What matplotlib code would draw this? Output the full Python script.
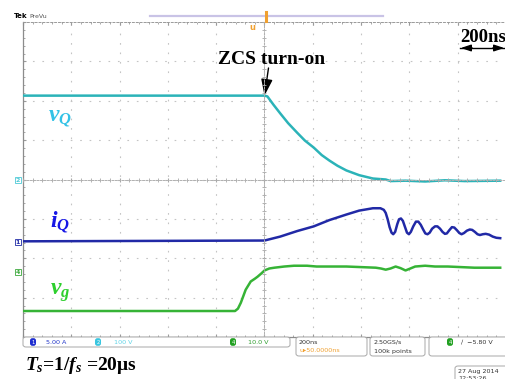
import matplotlib.pyplot as plt
from matplotlib.patches import FancyBboxPatch

plt.rcParams['mathtext.fontset'] = 'custom'
plt.rcParams['mathtext.rm'] = 'Liberation Serif:bold'
plt.rcParams['mathtext.it'] = 'Liberation Serif:italic:bold'
plt.rcParams['mathtext.bf'] = 'Liberation Serif:bold'

W, H = 506, 379

# time in ns, trigger at 0, 200 ns/div
t_vq = [-1000, 0, 12, 37, 65, 98, 135, 167, 204, 237, 269, 302, 339, 392, 449,
        502, 522, 584, 665, 747, 829, 976]
vq = [213, 213, 211, 190, 168, 143, 119, 99, 81, 62, 48, 35, 23, 11, 2.5,
      0, -4, -3, -5, -2, -4, -3]  # V

t_iq = [-1000, 0, 65, 135, 204, 269, 339, 392, 449, 480, 494, 502, 510, 518, 526, 533, 541,
        550, 557, 565, 573, 582, 590, 598, 606, 616, 627, 637, 647, 657, 666, 675, 684,
        694, 706, 716, 727, 737, 747, 755, 765, 776, 786, 797, 807, 816, 826, 838, 850,
        860, 871, 882, 892, 904, 916, 930, 945, 960, 976]
iq = [0, 0.1, 0.6, 1.3, 1.9, 2.7, 3.4, 3.9, 4.2, 4.2, 4.0, 3.6, 2.8, 1.8, 1.1, 0.9, 1.2,
      2.2, 2.8, 2.9, 2.6, 1.8, 1.1, 0.9, 1.2, 1.9, 2.5, 2.5, 2.1, 1.5, 1.0, 0.9, 1.1,
      1.6, 1.9, 1.9, 1.6, 1.2, 0.95, 1.0, 1.4, 1.8, 1.75, 1.4, 1.05, 0.9, 1.05, 1.35, 1.5,
      1.45, 1.2, 0.9, 0.8, 0.9, 0.95, 0.85, 0.6, 0.45, 0.4]  # A

t_vg = [-1000, -122, -110, -98, -78, -57, -40, -29, -12, 0, 20, 41, 82, 122, 176, 216, 339,
        461, 482, 502, 522, 543, 563, 584, 604, 624, 665, 706, 759, 869, 976]
vg = [-10, -10, -9.4, -7.9, -4.6, -2.5, -1.8, -1.3, -0.4, 0.3, 0.8, 1.0, 1.3, 1.5, 1.5, 1.3,
      1.3, 1.0, 0.8, 0.5, 0.8, 1.3, 0.9, 0.3, 0.8, 1.3, 1.5, 1.3, 1.3, 1.0, 1.0]  # V

# channel settings: volts (amps) per div, ground marker position in div
VQ_SCALE, VQ_POS = 100, 0.0
IQ_SCALE, IQ_POS = 5, -1.57
VG_SCALE, VG_POS = 10, -2.34

C_VQ, C_IQ, C_VG = '#2bb3b8', '#2129a6', '#36b336'


def fx(x):
    return x / W


def fy(y):
    return 1 - y / H


fig = plt.figure(figsize=(W / 100, H / 100), dpi=100)
pos = [fx(23), fy(337), (W - 23) / W, 315 / H]
ax = fig.add_axes(pos)
ax.set_xlim(-1000, -1000 + 483 / 49 * 200)
ax.set_ylim(-4, 4)
ax.set_xticks(range(-1000, 1001, 200))
ax.set_yticks(range(-4, 5))
ax.set_xticks(range(-1000, 1001, 40), minor=True)
ax.set_yticks([i / 5 for i in range(-20, 21)], minor=True)
ax.tick_params(which='both', direction='in', length=2.5, color='#9a9a9a',
               labelleft=False, labelbottom=False, top=True, right=False)
ax.tick_params(which='minor', length=1.5)
ax.grid(True, which='major', color='#c4c4c4', linestyle=(0, (1.5, 7)), lw=0.8)
for s in ['left', 'bottom']:
    ax.spines[s].set_color('#8c8c8c')
    ax.spines[s].set_linewidth(0.9)
ax.spines['top'].set_color('#9a9a9a')
ax.spines['top'].set_linestyle((0, (2, 2)))
ax.spines['top'].set_linewidth(0.7)
ax.spines['right'].set_visible(False)

# center crosshair with ticks
ax2 = fig.add_axes(pos, sharex=ax, sharey=ax)
ax2.patch.set_visible(False)
ax2.spines['left'].set_position('zero')
ax2.spines['bottom'].set_position('zero')
ax2.spines['top'].set_visible(False)
ax2.spines['right'].set_visible(False)
for s in ['left', 'bottom']:
    ax2.spines[s].set_color('#b0b0b0')
    ax2.spines[s].set_linestyle((0, (2, 1.5)))
    ax2.spines[s].set_linewidth(0.7)
ax2.tick_params(which='both', direction='inout', length=3.5, color='#a8a8a8',
                labelleft=False, labelbottom=False)
ax2.tick_params(which='minor', length=3)

ax.plot(t_vq, [v / VQ_SCALE + VQ_POS for v in vq], color=C_VQ, lw=1.8, zorder=3)
ax.plot(t_iq, [v / IQ_SCALE + IQ_POS for v in iq], color=C_IQ, lw=1.8, zorder=3)
ax.plot(t_vg, [v / VG_SCALE + VG_POS for v in vg], color=C_VG, lw=1.8, zorder=3)

serif = 'Liberation Serif'
fig.text(fx(272), fy(59), 'ZCS turn-on', ha='center', va='center', fontsize=14,
         fontweight='bold', family=serif)
ax.annotate('', xy=(0, vq[1] / VQ_SCALE + VQ_POS), xycoords='data',
            xytext=(fx(268.5), fy(68)), textcoords='figure fraction',
            arrowprops=dict(arrowstyle='-|>,head_width=0.35,head_length=1.0', color='black',
                            lw=1.0, shrinkA=0, shrinkB=0), zorder=5)

fig.text(fx(60), fy(117), r'$v_Q$', color='#33c2e6', fontsize=17, ha='center', va='center')
fig.text(fx(60), fy(222), r'$i_Q$', color='#1717e6', fontsize=17, ha='center', va='center')
fig.text(fx(60), fy(292), r'$v_g$', color='#2ecf2e', fontsize=17, ha='center', va='center')

# channel ground markers
for y, lab, c in [(180, '2', '#4cc9d6'), (242, '1', '#1f2aa6'), (272, '4', '#3aa83a')]:
    fig.text(fx(18), fy(y), lab, fontsize=4.5, color=c, ha='center', va='center',
             fontweight='bold',
             bbox=dict(boxstyle='square,pad=0.15', fc='white', ec=c, lw=0.6))

# top bar
fig.text(fx(14), fy(16), 'Tek', fontsize=5, fontweight='bold', ha='left', va='center')
fig.text(fx(29), fy(16), 'PreVu', fontsize=4.5, color='#555555', ha='left', va='center')
fig.add_artist(plt.Line2D([fx(150), fx(383)], [fy(16), fy(16)], color='#c9c3e6', lw=1.6))
fig.add_artist(plt.Line2D([fx(266.5), fx(266.5)], [fy(12), fy(21)], color='#f0a030', lw=2.2))
fig.text(fx(252), fy(28), 'u', fontsize=6, color='#f0a030', fontweight='bold',
         ha='center', va='center')

fig.text(fx(483), fy(37), '200ns', fontsize=13.5, fontweight='bold', family=serif,
         ha='center', va='center')
fig.add_artist(plt.Line2D([fx(460), fx(506)], [fy(48), fy(48)], color='black', lw=1.0))
ax.annotate('', xy=(fx(458), fy(48)), xytext=(fx(475), fy(48)),
            xycoords='figure fraction', textcoords='figure fraction',
            arrowprops=dict(arrowstyle='-|>,head_width=0.2,head_length=0.6', color='black', lw=1))
ax.annotate('', xy=(fx(507), fy(48)), xytext=(fx(490), fy(48)),
            xycoords='figure fraction', textcoords='figure fraction',
            arrowprops=dict(arrowstyle='-|>,head_width=0.2,head_length=0.6', color='black', lw=1))

# status bar boxes
for x0, y0, x1, y1 in [(23, 337, 290, 347), (296, 337, 367, 356), (370, 337, 425, 356),
                       (429, 337, 512, 356), (455, 366, 512, 385)]:
    fig.add_artist(FancyBboxPatch((fx(x0), fy(y1)), fx(x1 - x0), (y1 - y0) / H,
                                  boxstyle='round,pad=0,rounding_size=0.006',
                                  fc='white', ec='#a8a8a8', lw=0.7))

for x, lab, c in [(33, '1', '#1e2ed0'), (98, '2', '#39c6e0'), (233, '4', '#22a022'),
                  (450, '4', '#22a022')]:
    fig.text(fx(x), fy(342), lab, fontsize=3.8, color='white', ha='center', va='center',
             bbox=dict(boxstyle='round,pad=0.25,rounding_size=0.45', fc=c, ec='none'))
sfont = dict(fontsize=4.6, ha='left', va='center')
fig.text(fx(46), fy(342), '5.00 A', color='#2035c8', **sfont)
fig.text(fx(114), fy(342), '100 V', color='#5fd3e6', **sfont)
fig.text(fx(248), fy(342), '10.0 V', color='#2e9e2e', **sfont)
fig.text(fx(299), fy(342.5), '200ns', color='#333333', **sfont)
fig.text(fx(299), fy(351), 'u\u25b850.0000ns', color='#f0a030', **sfont)
fig.text(fx(374), fy(342.5), '2.50GS/s', color='#333333', **sfont)
fig.text(fx(374), fy(351), '100k points', color='#333333', **sfont)
fig.text(fx(461), fy(342), '\u2215  \u22125.80 V', color='#333333', **sfont)
fig.text(fx(458), fy(371), '27 Aug 2014', color='#333333', **sfont)
fig.text(fx(458), fy(378), '12:53:26', color='#333333', **sfont)

fig.text(fx(25), fy(365), r'$T_s$=$1/f_s$ =20μs', fontsize=14, fontweight='bold',
         family=serif, ha='left', va='center')

fig.savefig('out.png', dpi=100)
